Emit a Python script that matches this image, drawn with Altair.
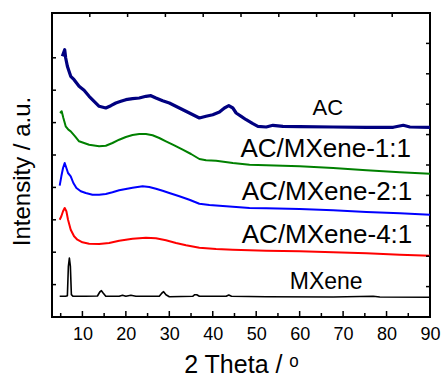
import altair as alt
import pandas as pd

# ---- data (2theta in degrees, intensity in arbitrary offset units) ----
ac_x = [5.38, 5.92, 6.15, 6.54, 6.92, 7.31, 8.08, 9.23, 10.38, 11.54, 12.69, 13.85, 15.38, 16.54,
        17.69, 18.85, 20.0, 21.54, 23.08, 24.62, 25.77, 26.92, 28.46, 30.0, 32.31, 34.62, 36.92,
        38.46, 40.0, 41.54, 42.69, 43.69, 44.62, 45.38, 46.54, 47.69, 49.23, 50.38, 52.31, 53.85,
        56.15, 60.0, 67.69, 75.38, 81.54, 83.85, 85.38, 90.0]
ac_y = [260.7, 267.3, 259, 250.7, 245.7, 240.7, 237.3, 230.7, 226.7, 220.7, 215.7, 210.7, 209, 211.3,
        214, 215.7, 217.3, 218.3, 219, 220.7, 221.3, 219, 216.3, 214, 209, 204, 199,
        200.7, 202.3, 205, 209, 211.3, 209, 204, 200.7, 197.3, 193.3, 190.7, 190, 191.7,
        190.7, 190.3, 190, 189.7, 189.7, 191.7, 190, 189.7]

m11_x = [4.85, 5.23, 5.62, 6.15, 6.77, 7.31, 8.31, 9.23, 10.38, 11.54, 13.85, 15.38, 16.92, 18.46,
         20.0, 21.54, 23.08, 24.62, 26.15, 27.69, 29.23, 31.15, 33.08, 35.0, 36.92, 38.46, 40.77,
         44.62, 48.46, 52.31, 60.0, 67.69, 75.38, 83.08, 90.0]
m11_y = [204, 205.7, 199, 190.7, 187.3, 185.7, 180.7, 175.7, 174, 172.3, 170.7, 171.3, 174, 177.3,
         180, 182, 183, 183, 181.7, 179, 175.7, 171.7, 167.3, 163, 158, 156.7, 156.3,
         154, 152.3, 151.7, 150.7, 149, 146.7, 144.7, 143.3]

m21_x = [4.77, 5.15, 5.54, 5.92, 6.31, 6.69, 7.31, 7.92, 8.62, 9.62, 10.77, 12.31, 13.85, 15.38,
         16.92, 18.46, 20.0, 21.54, 23.85, 25.38, 26.92, 28.46, 30.0, 32.31, 34.62, 36.92, 39.23,
         41.54, 44.62, 48.46, 52.31, 60.0, 67.69, 75.38, 83.08, 90.0]
m21_y = [131.3, 140.7, 149, 154, 149, 144, 140.7, 134, 129, 125.7, 124, 122.3, 122.3, 123,
         124.7, 126.7, 128, 129.3, 130.7, 130, 128.3, 126.3, 124, 120.7, 117.3, 113.3, 112,
         111.3, 110.3, 109, 108.7, 108, 106.7, 105, 103.7, 102.3]

m41_x = [4.77, 5.15, 5.54, 5.92, 6.31, 6.69, 7.31, 8.08, 8.85, 10.0, 11.54, 13.85, 16.15, 18.46,
         21.54, 24.62, 26.92, 29.23, 31.54, 33.85, 36.92, 40.77, 44.62, 52.31, 60.0, 67.69, 75.38,
         83.08, 90.0]
m41_y = [97.3, 100.7, 105.7, 109, 105.7, 97.3, 87.3, 80.7, 77.3, 74.7, 73.3, 73, 74, 76.3,
         78.3, 79.3, 78.7, 76.7, 74, 71.7, 69.3, 68, 67.3, 66.3, 65.7, 64.7, 63.7,
         62.3, 61.3]

mx_x = [4.77, 6.15, 6.54, 6.77, 7.0, 7.23, 7.46, 7.85, 10.77, 13.46, 14.0, 14.38, 14.77, 15.38,
        18.46, 19.23, 20.0, 21.15, 22.31, 27.69, 28.31, 28.69, 29.23, 30.0, 35.38, 35.85, 36.31,
        36.92, 43.08, 43.69, 44.31, 52.31, 67.69, 76.92, 78.46, 90.0]
mx_y = [20.7, 20.7, 21.3, 50.7, 59, 50.7, 22.3, 20.7, 20.7, 21, 25, 26.3, 24, 20.7,
        20.7, 21.7, 20.7, 21.7, 20.7, 20.7, 24, 25.3, 22.3, 20.3, 20.7, 22.3, 22.3,
        20.7, 20.7, 22, 20.7, 20.3, 20, 20.7, 20, 19.7]

series_names = ["AC", "AC/MXene-1:1", "AC/MXene-2:1", "AC/MXene-4:1", "MXene"]
series_colors = ["#000080", "#008000", "#0000ff", "#ff0000", "#000000"]
series_widths = [3.2, 2.0, 2.0, 2.0, 1.6]

label_x = [66.5, 66.0, 66.3, 66.3, 66.1]
label_y = [202, 160, 117, 74, 28]
label_size = [22, 26, 26, 26, 23]

x_ticks_major = [10, 20, 30, 40, 50, 60, 70, 80, 90]
x_ticks_minor = [5, 15, 25, 35, 45, 55, 65, 75, 85]
top_ticks = [11.7, 20.4, 29.1, 37.8, 46.5, 55.2, 63.9, 72.6, 81.3]
left_ticks = [32.4, 64.8, 97.2, 129.6, 162.0, 194.4, 226.8, 259.2]
right_ticks = [30.4, 60.8, 91.2, 121.6, 152.0, 182.4, 212.8, 243.2, 273.6]

W, H = 378, 304
FONT = "Liberation Sans"

xs = alt.Scale(domain=[3, 90], nice=False, zero=False)
ys = alt.Scale(domain=[0, 304], nice=False, zero=False)

all_x = [ac_x, m11_x, m21_x, m41_x, mx_x]
all_y = [ac_y, m11_y, m21_y, m41_y, mx_y]

layers = []
for i, name in enumerate(series_names):
    df = pd.DataFrame({"x": all_x[i], "y": all_y[i]})
    enc_x = alt.X("x:Q", scale=xs)
    enc_y = alt.Y("y:Q", scale=ys)
    if i == 0:
        enc_x = alt.X("x:Q", scale=xs,
                      axis=alt.Axis(values=x_ticks_major, ticks=False, domain=False, grid=False,
                                    labelFont=FONT, labelFontSize=18, labelColor="black",
                                    labelFlush=False, labelOverlap=False,
                                    labelPadding=8, title="2 Theta / ᵒ", titleFont=FONT,
                                    titleFontSize=25, titleFontWeight="normal", titleColor="black",
                                    titlePadding=9))
        enc_y = alt.Y("y:Q", scale=ys,
                      axis=alt.Axis(labels=False, ticks=False, domain=False, grid=False,
                                    title="Intensity / a.u.", titleFont=FONT, titleFontSize=24,
                                    titleFontWeight="normal", titleColor="black", titlePadding=18,
                                    titleY=158))
    layers.append(alt.Chart(df).mark_line(color=series_colors[i], strokeWidth=series_widths[i],
                                          strokeJoin="round").encode(x=enc_x, y=enc_y, order="x:Q"))

for i, name in enumerate(series_names):
    tdf = pd.DataFrame({"x": [label_x[i]], "y": [label_y[i]], "t": [name]})
    layers.append(alt.Chart(tdf).mark_text(font=FONT, fontSize=label_size[i], color="black",
                                           align="center", baseline="alphabetic").encode(
        x=alt.X("x:Q", scale=xs), y=alt.Y("y:Q", scale=ys), text="t:N"))

# inward ticks
bmaj = pd.DataFrame({"v": x_ticks_major})
bmin = pd.DataFrame({"v": x_ticks_minor})
tdf = pd.DataFrame({"v": top_ticks})
ldf = pd.DataFrame({"v": left_ticks})
rdf = pd.DataFrame({"v": right_ticks})
tick_style = dict(color="black", strokeWidth=1.5)
layers.append(alt.Chart(bmaj).mark_rule(**tick_style).encode(
    x=alt.X("v:Q", scale=xs), y=alt.value(H), y2=alt.value(H - 6)))
layers.append(alt.Chart(bmin).mark_rule(**tick_style).encode(
    x=alt.X("v:Q", scale=xs), y=alt.value(H), y2=alt.value(H - 4)))
layers.append(alt.Chart(tdf).mark_rule(**tick_style).encode(
    x=alt.X("v:Q", scale=xs), y=alt.value(0), y2=alt.value(4)))
layers.append(alt.Chart(ldf).mark_rule(**tick_style).encode(
    y=alt.Y("v:Q", scale=ys), x=alt.value(0), x2=alt.value(4)))
layers.append(alt.Chart(rdf).mark_rule(**tick_style).encode(
    y=alt.Y("v:Q", scale=ys), x=alt.value(W), x2=alt.value(W - 4)))

chart = alt.layer(*layers).properties(
    width=W, height=H,
    autosize=alt.AutoSizeParams(type="none"),
    padding={"left": 52, "top": 13, "right": 11, "bottom": 59},
    background="white",
).configure_view(stroke="black", strokeWidth=2)

chart.save("out.html", embed_options={"renderer": "svg", "actions": False})
